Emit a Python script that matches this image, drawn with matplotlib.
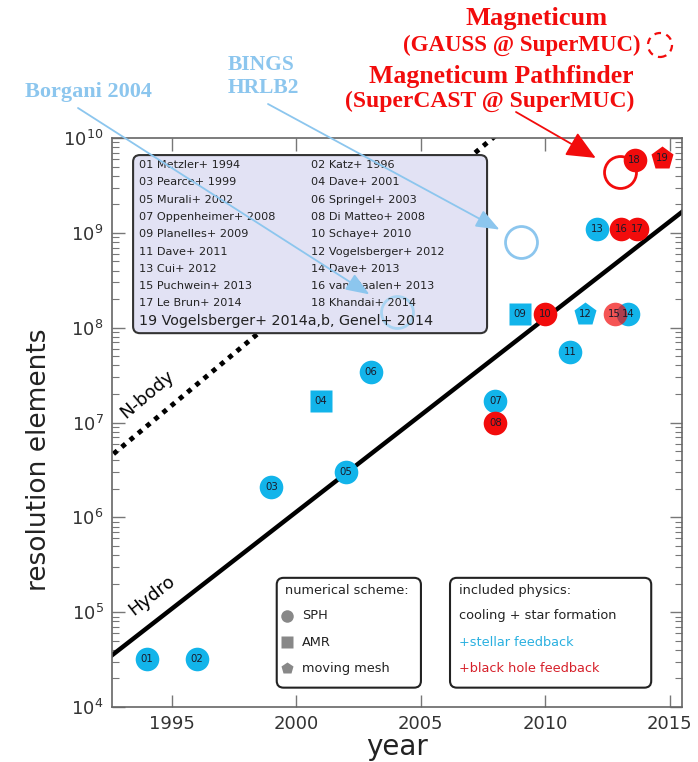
import matplotlib
matplotlib.use("Agg")
import matplotlib.pyplot as plt
from matplotlib.patches import FancyBboxPatch, Ellipse

# simulations: label, year, resolution elements, scheme, feedback class
LABELS = ["01", "02", "03", "04", "05", "06", "07", "08", "09", "10",
          "11", "12", "13", "14", "15", "16", "17", "18", "19"]
YEARS = [1994.0, 1996.0, 1999.0, 2001.0, 2002.0, 2003.0, 2008.0, 2008.0, 2009.0, 2010.0,
         2011.0, 2011.6, 2012.1, 2013.35, 2012.8, 2013.05, 2013.7, 2013.6, 2014.7]
NRES = [3.2e4, 3.2e4, 2.1e6, 1.7e7, 3.0e6, 3.4e7, 1.7e7, 1.0e7, 1.4e8, 1.4e8,
        5.6e7, 1.4e8, 1.1e9, 1.4e8, 1.4e8, 1.1e9, 1.1e9, 5.9e9, 6.1e9]
SCHEME = ["SPH", "SPH", "SPH", "AMR", "SPH", "SPH", "SPH", "SPH", "AMR", "SPH",
          "SPH", "MM", "SPH", "SPH", "SPH", "SPH", "SPH", "SPH", "MM"]
PHYSICS = ["star", "star", "star", "star", "star", "star", "star", "bh", "star", "bh",
           "star", "star", "star", "star", "bh", "bh", "bh", "bh", "bh"]

REFERENCES = ["01 Metzler+ 1994", "02 Katz+ 1996", "03 Pearce+ 1999", "04 Dave+ 2001",
              "05 Murali+ 2002", "06 Springel+ 2003", "07 Oppenheimer+ 2008",
              "08 Di Matteo+ 2008", "09 Planelles+ 2009", "10 Schaye+ 2010",
              "11 Dave+ 2011", "12 Vogelsberger+ 2012", "13 Cui+ 2012", "14 Dave+ 2013",
              "15 Puchwein+ 2013", "16 van Daalen+ 2013", "17 Le Brun+ 2014",
              "18 Khandai+ 2014"]
LAST_REFERENCE = "19 Vogelsberger+ 2014a,b, Genel+ 2014"

# highlighted (open circle) runs
OPEN_NAMES = ["Borgani 2004", "BINGS HRLB2", "Magneticum Pathfinder"]
OPEN_YEARS = [2004.07, 2009.05, 2013.0]
OPEN_NRES = [1.45e8, 8.1e8, 4.4e9]

# trend lines
HYDRO_YEARS = [1992.0, 2016.0]
HYDRO_NRES = [2.65e4, 2.1e9]
NBODY_YEARS = [1992.0, 2009.0]
NBODY_NRES = [3.35e6, 1.74e10]

CYAN = "#12b4ea"
RED = "#f20c0c"
LIGHT_BLUE = "#8cc6ee"
MARKERS = {"SPH": "o", "AMR": "s", "MM": "p"}
SIZES = {"SPH": 17, "AMR": 16, "MM": 17}
COLORS = {"star": CYAN, "bh": RED}

W, H = 698, 762


def fig_px(x, y):
    # pixel position measured from the top-left corner -> figure fraction
    return x / W, 1 - y / H


fig = plt.figure(figsize=(W / 100, H / 100), dpi=100)
ax = fig.add_axes([112 / W, 1 - 707 / H, 570 / W, 569 / H])
ax.set_yscale("log")
ax.set_xlim(1992.6, 2015.5)
ax.set_ylim(1e4, 1e10)
ax.set_xticks([1995, 2000, 2005, 2010, 2015])

for sp in ax.spines.values():
    sp.set_color("#666666")
    sp.set_linewidth(1.2)
ax.tick_params(which="both", direction="in", top=True, right=True, colors="#777777",
               labelcolor="#333333", labelsize=13)
ax.tick_params(which="major", length=9, width=1.0, pad=6)
ax.tick_params(which="minor", length=5, width=0.8)
ax.set_xlabel("year", fontsize=20, color="#222222")
ax.xaxis.label.set_va("baseline")
ax.xaxis.set_label_coords(0.5, -0.085)
ax.set_ylabel("resolution elements", fontsize=19, color="#222222")
ax.yaxis.set_label_coords(-0.105, 0.434)

# trend lines
ax.plot(HYDRO_YEARS, HYDRO_NRES, color="black", lw=3.2, zorder=2)
ax.plot(NBODY_YEARS, NBODY_NRES, color="black", lw=3.5, ls=(0, (1, 1.2)), zorder=2)
ax.text(0.070, 0.196, "Hydro", transform=ax.transAxes, rotation=38, fontsize=13,
        ha="center", va="center")
ax.text(0.062, 0.55, "N-body", transform=ax.transAxes, rotation=40, fontsize=13,
        ha="center", va="center")

# reference list box
box = FancyBboxPatch((0.037, 0.657), 0.621, 0.313, transform=ax.transAxes,
                     boxstyle="round,pad=0,rounding_size=0.012", facecolor="#e2e2f4",
                     edgecolor="#333333", lw=1.5, zorder=3)
ax.add_patch(box)
for i, ref in enumerate(REFERENCES):
    col, row = i % 2, i // 2
    ax.text([0.047, 0.349][col], 0.9525 - 0.0304 * row, ref, transform=ax.transAxes,
            fontsize=8.1, color="#222222", va="center", zorder=4)
ax.text(0.047, 0.678, LAST_REFERENCE, transform=ax.transAxes, fontsize=10.3,
        color="#222222", va="center", zorder=4)

# open circles for highlighted runs
open_colors = ["#a9d4f2", LIGHT_BLUE, RED]
for yr, n, c in zip(OPEN_YEARS, OPEN_NRES, open_colors):
    ax.plot(yr, n, marker="o", ms=23, mfc="none", mec=c, mew=2, zorder=3.5)

# simulation markers
for lab, yr, n, sch, phys in zip(LABELS, YEARS, NRES, SCHEME, PHYSICS):
    alpha = 0.7 if lab == "15" else 1.0
    ax.plot(yr, n, marker=MARKERS[sch], ms=SIZES[sch], color=COLORS[phys], mec="none",
            alpha=alpha, zorder=5)
    ax.text(yr, n, lab, fontsize=7.3, ha="center", va="center", color="#1a1a2a", zorder=6)

# numerical scheme legend
ax.add_patch(FancyBboxPatch((0.289, 0.034), 0.253, 0.193, transform=ax.transAxes,
                            boxstyle="round,pad=0,rounding_size=0.012", facecolor="white",
                            edgecolor="#222222", lw=1.5, zorder=3))
ax.text(0.3035, 0.204, "numerical scheme:", transform=ax.transAxes, fontsize=9.3,
        color="#222222", va="center", zorder=4)
for k, (sch, name) in enumerate(zip(["SPH", "AMR", "MM"], ["SPH", "AMR", "moving mesh"])):
    yy = [0.160, 0.114, 0.0685][k]
    ax.plot(0.307, yy, marker=MARKERS[sch], ms=9, color="#888888", mec="none",
            transform=ax.transAxes, zorder=4)
    ax.text(0.333, yy, name, transform=ax.transAxes, fontsize=9.3, color="#222222",
            va="center", zorder=4)

# physics legend
ax.add_patch(FancyBboxPatch((0.593, 0.034), 0.353, 0.193, transform=ax.transAxes,
                            boxstyle="round,pad=0,rounding_size=0.012", facecolor="white",
                            edgecolor="#222222", lw=1.5, zorder=3))
for k, (txt, c) in enumerate(zip(["included physics:", "cooling + star formation",
                                   "+stellar feedback", "+black hole feedback"],
                                  ["#222222", "#222222", "#2ab0e0", "#d6202a"])):
    ax.text(0.608, [0.204, 0.160, 0.114, 0.0685][k], txt, transform=ax.transAxes,
            fontsize=9.3, color=c, va="center", zorder=4)

# annotations above the axes
serif = dict(family="Liberation Serif", weight="bold")
fig.text(*fig_px(152, 92), "Borgani 2004", color=LIGHT_BLUE, fontsize=16, ha="right",
         va="center", **serif)
fig.text(*fig_px(228, 65), "BINGS", color=LIGHT_BLUE, fontsize=15.5, ha="left",
         va="center", **serif)
fig.text(*fig_px(228, 88), "HRLB2", color=LIGHT_BLUE, fontsize=15.5, ha="left",
         va="center", **serif)
fig.text(*fig_px(537, 18), "Magneticum", color=RED, fontsize=19, ha="center",
         va="center", **serif)
fig.text(*fig_px(522, 45), "(GAUSS @ SuperMUC)", color=RED, fontsize=16.5, ha="center",
         va="center", **serif)
fig.text(*fig_px(501, 77), "Magneticum Pathfinder", color=RED, fontsize=18.5,
         ha="center", va="center", **serif)
fig.text(*fig_px(490, 101), "(SuperCAST @ SuperMUC)", color=RED, fontsize=17,
         ha="center", va="center", **serif)
fig.add_artist(Ellipse(fig_px(660, 45), 24 / W, 24 / H, transform=fig.transFigure,
                       fill=False, edgecolor=RED, lw=1.6, ls=(0, (3, 2.5))))

arrow_kw = dict(xycoords="data", textcoords="figure fraction", annotation_clip=False)
ax.annotate("", xy=(OPEN_YEARS[0], OPEN_NRES[0]), xytext=fig_px(78, 108),
            arrowprops=dict(arrowstyle="-|>,head_length=0.9,head_width=0.35",
                            color=LIGHT_BLUE, lw=1.3, shrinkA=0, shrinkB=24,
                            mutation_scale=16), zorder=7, **arrow_kw)
ax.annotate("", xy=(OPEN_YEARS[1], OPEN_NRES[1]), xytext=fig_px(268, 104),
            arrowprops=dict(arrowstyle="-|>,head_length=0.9,head_width=0.35",
                            color=LIGHT_BLUE, lw=1.3, shrinkA=0, shrinkB=18,
                            mutation_scale=16), zorder=7, **arrow_kw)
ax.annotate("", xy=(OPEN_YEARS[2], OPEN_NRES[2]), xytext=fig_px(516, 112),
            arrowprops=dict(arrowstyle="-|>,head_length=1.0,head_width=0.45",
                            color=RED, lw=1.3, shrinkA=0, shrinkB=20,
                            mutation_scale=18), zorder=7, **arrow_kw)

fig.savefig("out.png", dpi=100)
